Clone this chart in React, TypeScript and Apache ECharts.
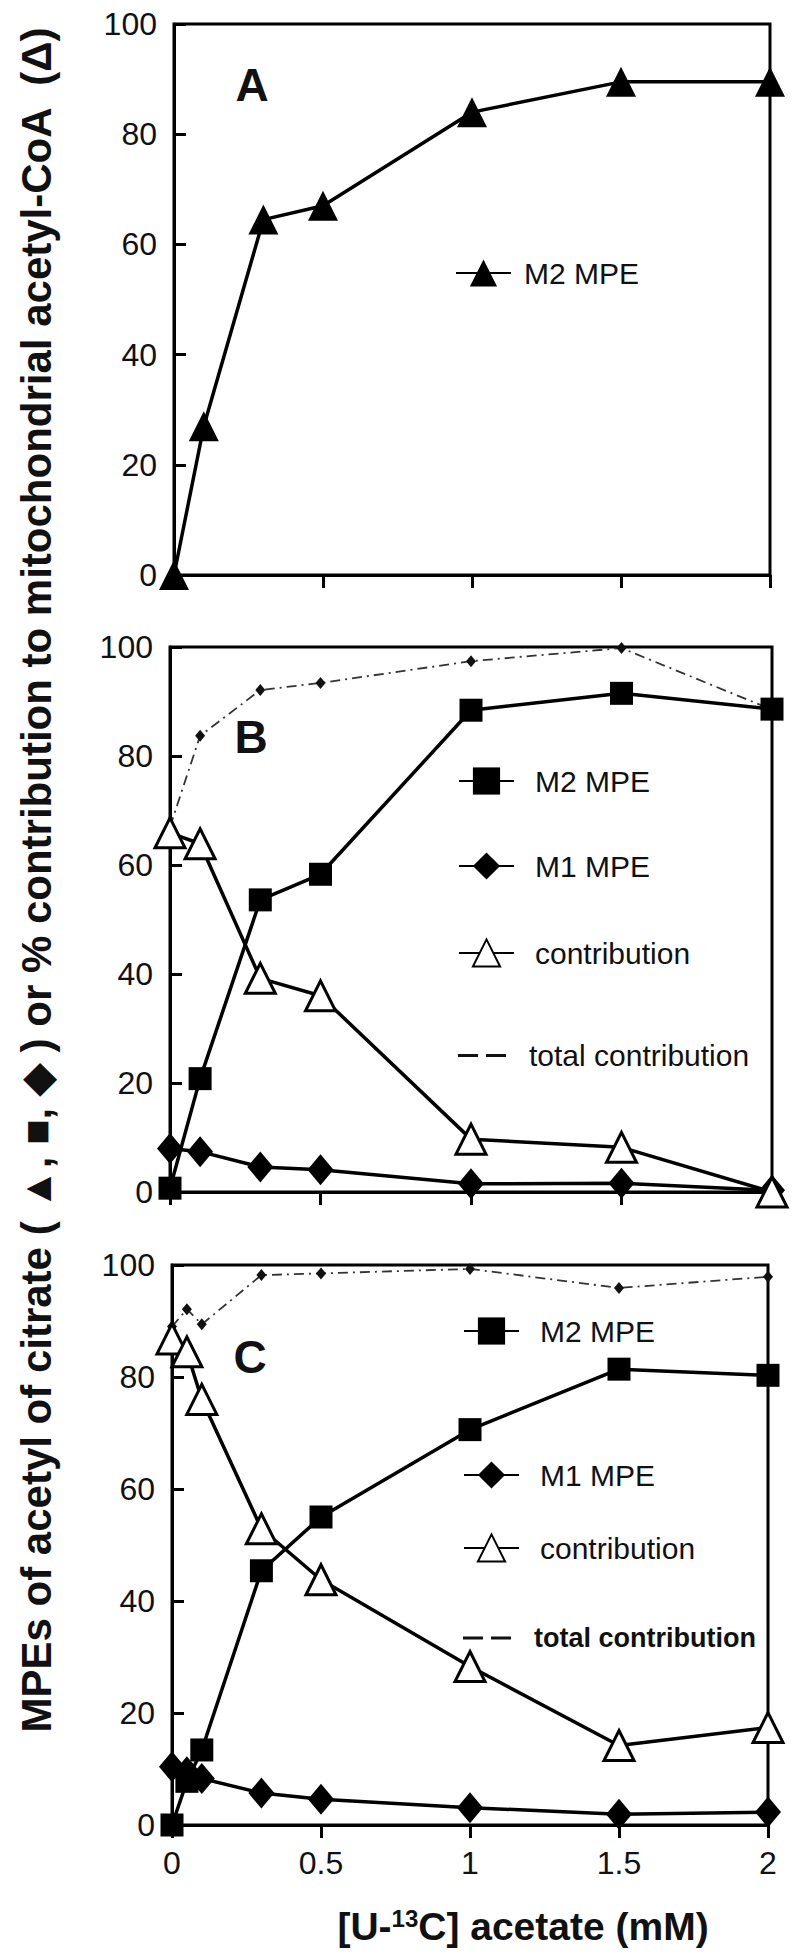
import React, { useEffect, useRef } from "react";
import * as echarts from "echarts";

// ---- data ----
const xA = [0, 0.1, 0.3, 0.5, 1, 1.5, 2];
const aM2 = [0, 27, 64.5, 67, 84, 89.5, 89.5];

const xB = [0, 0.1, 0.3, 0.5, 1, 1.5, 2];
const bM2 = [0.7, 20.8, 53.6, 58.3, 88.4, 91.5, 88.6];
const bM1 = [8.0, 7.4, 4.6, 4.1, 1.5, 1.6, 0.3];
const bContrib = [65.9, 63.9, 39.2, 36.0, 9.7, 8.2, 0];
const bTotal = [67, 83.7, 92.1, 93.4, 97.4, 99.8, 88.5];

const xC = [0, 0.05, 0.1, 0.3, 0.5, 1, 1.5, 2];
const cM2 = [0, 7.8, 13.4, 45.4, 55, 70.6, 81.4, 80.3];
const cM1 = [10.4, 9.5, 8.3, 5.7, 4.6, 3.1, 1.9, 2.3];
const cContrib = [86.8, 84.5, 76, 52.9, 43.8, 28.3, 14.2, 17.4];
const cTotal = [89, 92.1, 89.4, 98.2, 98.5, 99.3, 95.9, 97.9];

const yTicks = [0, 20, 40, 60, 80, 100];
const xTicks = [0, 0.5, 1, 1.5, 2];

const yTitle =
  "MPEs of acetyl of citrate ( \u25B2, \u25A0, \u25C6 ) or % contribution to mitochondrial acetyl-CoA  (\u0394)";

const FONT = "'Liberation Sans', Arial, sans-serif";

const pairs = (xs: number[], ys: number[]) => xs.map((x, i) => [x, ys[i]]);

export default function App() {
  const ref = useRef<HTMLDivElement>(null);
  useEffect(() => {
    if (!ref.current) return;
    const chart = echarts.init(ref.current, undefined, { renderer: "svg" });

    const grids = [
      { left: 174, top: 24, width: 596, height: 551 },
      { left: 170, top: 647, width: 602, height: 545 },
      { left: 172, top: 1265, width: 596, height: 560 },
    ];

    const mkX = (i: number) => ({
      type: "value",
      gridIndex: i,
      min: xTicks[0],
      max: xTicks[xTicks.length - 1],
      interval: 0.5,
      axisLine: { lineStyle: { color: "#000", width: 3 } },
      axisTick: { inside: false, length: 13, lineStyle: { color: "#000", width: 3 } },
      axisLabel: {
        show: i === 2,
        color: "#111",
        fontSize: 32,
        fontFamily: FONT,
        margin: 22,
      },
      splitLine: { show: false },
    });
    const mkY = (i: number) => ({
      type: "value",
      gridIndex: i,
      min: yTicks[0],
      max: yTicks[yTicks.length - 1],
      interval: 20,
      axisLine: { lineStyle: { color: "#000", width: 3 } },
      axisTick: { inside: true, length: 12, lineStyle: { color: "#000", width: 3 } },
      axisLabel: { color: "#111", fontSize: 32, fontFamily: FONT, margin: 17 },
      splitLine: { show: false },
    });

    const solid = { color: "#000", width: 3.5 };
    const filledTri = { symbol: "triangle", symbolSize: 30, itemStyle: { color: "#000" } };
    const square = { symbol: "rect", symbolSize: 23, itemStyle: { color: "#000" } };
    const diamond = { symbol: "diamond", symbolSize: [26, 31], itemStyle: { color: "#000" } };
    const openTri = {
      symbol: "triangle",
      symbolSize: 30,
      itemStyle: { color: "#fff", borderColor: "#000", borderWidth: 3 },
    };
    const total = {
      symbol: "diamond",
      symbolSize: [10, 12],
      itemStyle: { color: "#111" },
      lineStyle: { color: "#333", width: 1.8, type: [10, 5, 2, 5] },
    };

    const line = (name: string, gi: number, xs: number[], ys: number[], st: any, z: number) => ({
      type: "line",
      name,
      xAxisIndex: gi,
      yAxisIndex: gi,
      data: pairs(xs, ys),
      showSymbol: true,
      showAllSymbol: true,
      lineStyle: solid,
      z,
      ...st,
    });

    const series = [
      line("M2 MPE (A)", 0, xA, aM2, filledTri, 3),
      line("total contribution", 1, xB, bTotal, total, 2),
      line("M2 MPE", 1, xB, bM2, square, 3),
      line("M1 MPE", 1, xB, bM1, diamond, 3),
      line("contribution", 1, xB, bContrib, openTri, 4),
      line("total contribution", 2, xC, cTotal, total, 2),
      line("M2 MPE", 2, xC, cM2, square, 3),
      line("M1 MPE", 2, xC, cM1, diamond, 3),
      line("contribution", 2, xC, cContrib, openTri, 4),
    ];

    const lg = (name: string, left: number, cy: number, opts: any = {}) => {
      const ih = opts.itemHeight ?? 34;
      return {
        show: true,
        data: [opts.icon ? { name, icon: opts.icon } : name],
        left,
        top: cy - ih / 2,
        padding: 0,
        itemWidth: opts.itemWidth ?? 55,
        itemHeight: ih,
        selectedMode: false,
        formatter: (n: string) => n.replace(" (A)", ""),
        textStyle: {
          color: "#111",
          fontSize: opts.fontSize ?? 30,
          fontWeight: opts.bold ? "bold" : "normal",
          fontFamily: FONT,
          padding: [0, 0, 0, opts.gap ?? 16],
        },
      };
    };
    const dashIcon = "path://M0 0H20V3H0Z M28 0H48V3H28Z";

    const legends = [
      lg("M2 MPE (A)", 455, 275, { gap: 8 }),
      lg("M2 MPE", 458, 783),
      lg("M1 MPE", 458, 868),
      lg("contribution", 458, 955),
      lg("total contribution", 458, 1042, { icon: dashIcon, itemHeight: 3, itemWidth: 48, gap: 18 }),
      lg("M2 MPE", 463, 1333),
      lg("M1 MPE", 463, 1477),
      lg("contribution", 463, 1550),
      lg("total contribution", 463, 1626, {
        icon: dashIcon,
        itemHeight: 3,
        itemWidth: 48,
        gap: 18,
        bold: true,
        fontSize: 27,
      }),
    ];

    const letter = (t: string, x: number, y: number) => ({
      type: "text",
      x,
      y,
      style: {
        text: t,
        fill: "#111",
        font: `bold 46px ${FONT}`,
        textAlign: "center",
        textVerticalAlign: "middle",
      },
      z: 10,
    });

    chart.setOption({
      animation: false,
      backgroundColor: "#fff",
      grid: grids.map((g) => ({
        ...g,
        show: true,
        borderColor: "#000",
        borderWidth: 3,
        backgroundColor: "transparent",
      })),
      xAxis: [mkX(0), mkX(1), mkX(2)],
      yAxis: [mkY(0), mkY(1), mkY(2)],
      legend: legends,
      series,
      graphic: [
        letter("A", 252, 85),
        letter("B", 251, 737),
        letter("C", 250, 1357),
        {
          type: "text",
          x: 36,
          y: 880,
          rotation: Math.PI / 2,
          style: {
            text: yTitle,
            fill: "#111",
            font: `bold 42px ${FONT}`,
            textAlign: "center",
            textVerticalAlign: "middle",
          },
        },
        {
          type: "text",
          x: 523,
          y: 1926,
          style: {
            rich: {
              a: { fontFamily: FONT, fontWeight: "bold", fontSize: 39, fill: "#111" },
              s: {
                fontFamily: FONT,
                fontWeight: "bold",
                fontSize: 24,
                fill: "#111",
                verticalAlign: "top",
                padding: [0, 0, 15, 0],
              },
            },
            text: "{a|[U-}{s|13}{a|C] acetate (mM)}",
            textAlign: "center",
            textVerticalAlign: "middle",
          },
        },
      ],
    });
    return () => chart.dispose();
  }, []);
  return (
    <div
      ref={ref}
      style={{ position: "absolute", left: 0, top: 0, width: 800, height: 1956, background: "#fff" }}
    />
  );
}
